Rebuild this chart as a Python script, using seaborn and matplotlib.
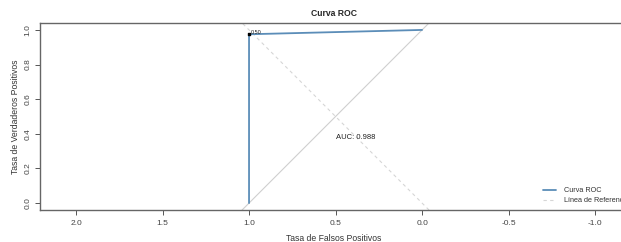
import matplotlib
matplotlib.use("Agg")
import matplotlib.pyplot as plt
import seaborn as sns
import pandas as pd

# Data
specificity = [1.0, 1.0, 0.0]
sensitivity = [0.0, 0.975, 1.0]
threshold_label = "0.50"
auc_value = 0.988
x_ticks = [2.0, 1.5, 1.0, 0.5, 0.0, -0.5, -1.0]
y_ticks = [0.0, 0.2, 0.4, 0.6, 0.8, 1.0]

sns.set_style("white")
plt.rcParams['font.family'] = ['Liberation Sans', 'DejaVu Sans']

W, H = 621, 242
fig = plt.figure(figsize=(W / 100, H / 100), dpi=100)
ax = fig.add_axes([40 / W, 1 - 210 / H, (628 - 40) / W, (210 - 23) / H])

df = pd.DataFrame({"spec": specificity, "sens": sensitivity})

# identity line (solid light grey)
ax.axline((1.0, 0.0), (0.0, 1.0), color="#cfcfcf", lw=0.8, zorder=1)
# reference line (dashed)
ax.axline((0.0, 0.0), (1.0, 1.0), color="#d6d6d6", lw=0.8, ls=(0, (3, 3)), zorder=1,
          label="Línea de Referencia")

sns.lineplot(data=df, x="spec", y="sens", sort=False, estimator=None, color="#5b8db8",
             lw=1.3, ax=ax, label="Curva ROC", zorder=3)

# threshold point
ax.scatter([specificity[1]], [sensitivity[1]], s=4, marker="s", color="black", zorder=4)
ax.text(specificity[1] - 0.01, sensitivity[1] - 0.005, threshold_label, fontsize=4,
        ha="left", va="bottom", color="#222222")

ax.text(0.5, 0.38, f"AUC: {auc_value}", fontsize=5.5, ha="left", va="center", color="#222222")

ax.set_xlim(2.208, -1.19)
ax.set_ylim(-0.04, 1.04)
ax.set_xticks(x_ticks)
ax.set_xticklabels([f"{v:.1f}" for v in x_ticks], fontsize=6, color="#444444")
ax.set_yticks(y_ticks)
ax.set_yticklabels([f"{v:.1f}" for v in y_ticks], fontsize=6, color="#444444",
                   rotation=90, va="center")
ax.tick_params(axis="both", which="both", length=3.5, width=0.7, color="#555555",
               direction="out", bottom=True, left=True)
ax.tick_params(axis="x", pad=4)
ax.tick_params(axis="y", pad=2.5)

ax.set_xlabel("Tasa de Falsos Positivos", fontsize=6.2, color="#333333", labelpad=5)
ax.set_ylabel("Tasa de Verdaderos Positivos", fontsize=6.2, color="#333333", labelpad=3)
ax.set_title("Curva ROC", fontsize=6.2, fontweight="bold", pad=5)

for side in ["top", "bottom", "left"]:
    ax.spines[side].set_visible(True)
    ax.spines[side].set_color("#666666")
    ax.spines[side].set_linewidth(1.0)
ax.spines["right"].set_visible(False)

handles, labels = ax.get_legend_handles_labels()
order = [labels.index("Curva ROC"), labels.index("Línea de Referencia")]
leg = ax.legend([handles[i] for i in order], [labels[i] for i in order],
                loc="upper left", bbox_to_anchor=(543 / W, 1 - 187 / H),
                bbox_transform=fig.transFigure, frameon=False, fontsize=5.2,
                borderpad=0, borderaxespad=0, handlelength=1.8, handletextpad=1.1,
                labelspacing=0.45)
for t in leg.get_texts():
    t.set_color("#333333")

fig.savefig("out.png", dpi=100)
